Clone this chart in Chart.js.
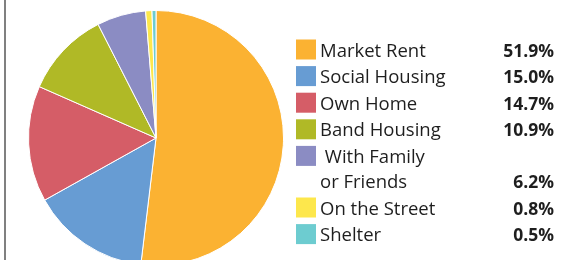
<!DOCTYPE html>
<html>
<head>
<meta charset="utf-8">
<script src="https://cdn.jsdelivr.net/npm/chart.js@4"></script>
<style>
  html, body { margin: 0; padding: 0; background: #fff; }
  #wrap { position: relative; width: 570px; height: 260px; overflow: hidden; }
  #edge { position: absolute; left: 4px; top: 0; width: 2px; height: 260px; background: #808080; }
  canvas { position: absolute; left: 0; top: 0; }
</style>
</head>
<body>
<div id="wrap">
  <canvas id="c" width="570" height="280"></canvas>
  <div id="edge"></div>
</div>
<script>
const categories = ["Market Rent", "Social Housing", "Own Home", "Band Housing", "With Family or Friends", "On the Street", "Shelter"];
const legendLines = [["Market Rent"], ["Social Housing"], ["Own Home"], ["Band Housing"], [" With Family", "or Friends"], ["On the Street"], ["Shelter"]];
const shares = [51.9, 15.0, 14.7, 10.9, 6.2, 0.8, 0.5];
const valueLabels = ["51.9%", "15.0%", "14.7%", "10.9%", "6.2%", "0.8%", "0.5%"];
const colors = ["#FBB232", "#679CD3", "#D55D67", "#B0B926", "#8B8CC3", "#FDE74C", "#6DCCD0"];

const FONT = '"Open Sans", "Noto Sans", sans-serif';

const sideLegend = {
  id: 'sideLegend',
  afterDraw(chart) {
    const ctx = chart.ctx;
    ctx.save();
    let baseline = 56.5;
    const itemGap = 26.6, lineGap = 25;
    categories.forEach((cat, i) => {
      const lines = legendLines[i];
      ctx.fillStyle = colors[i];
      ctx.fillRect(296, baseline - 17, 20, 20);
      ctx.fillStyle = '#1e1e1e';
      ctx.textBaseline = 'alphabetic';
      ctx.font = '18.5px ' + FONT;
      ctx.textAlign = 'left';
      lines.forEach((ln, j) => {
        ctx.fillText(ln, 320, baseline + j * lineGap);
      });
      const last = baseline + (lines.length - 1) * lineGap;
      ctx.font = 'bold 17.5px ' + FONT;
      ctx.textAlign = 'right';
      ctx.fillText(valueLabels[i], 554, last);
      baseline = last + itemGap;
    });
    ctx.restore();
  }
};

new Chart(document.getElementById('c'), {
  type: 'pie',
  data: {
    labels: categories,
    datasets: [{
      data: shares,
      backgroundColor: colors,
      borderColor: '#ffffff',
      borderWidth: 1
    }]
  },
  options: {
    responsive: false,
    animation: false,
    layout: { padding: { left: 28, top: 10, right: 286, bottom: 14 } },
    plugins: {
      legend: { display: false },
      tooltip: { enabled: false }
    }
  },
  plugins: [sideLegend]
});
</script>
</body>
</html>
